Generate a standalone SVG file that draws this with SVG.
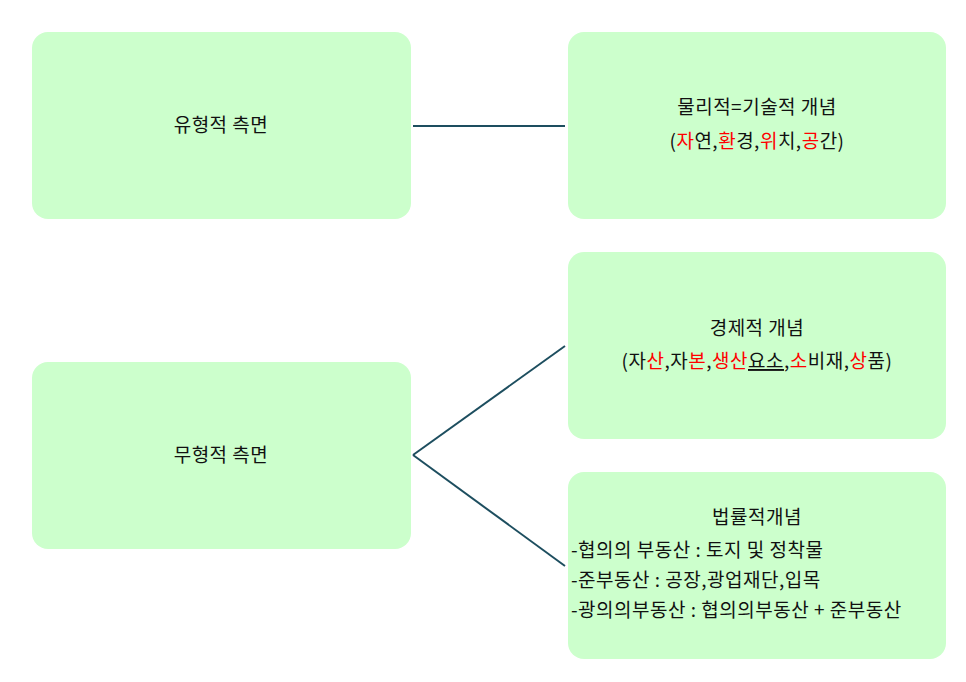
<svg xmlns="http://www.w3.org/2000/svg" width="966" height="682" viewBox="0 0 966 682">
<style>
.box{fill:#ccffcc;stroke:none}
text{font-family:"Noto Sans CJK KR","Noto Sans",sans-serif;font-size:19px;letter-spacing:0.5px;fill:#111}
.c{text-anchor:middle}
.r{fill:#ff0000}
.ln{stroke:#1d4e5f;stroke-width:2;fill:none}
</style>
<rect width="966" height="682" fill="#fff"/>
<g id="connectors">
<line class="ln" x1="413" y1="126" x2="565" y2="126"/>
<line class="ln" x1="413" y1="455" x2="565" y2="346"/>
<line class="ln" x1="413" y1="455" x2="565" y2="566"/>
</g>
<g id="n1"><rect class="box" x="32" y="32" width="379" height="187" rx="16"/><text class="c" x="221" y="132">유형적 측면</text></g>
<g id="n2"><rect class="box" x="32" y="362" width="379" height="187" rx="16"/><text class="c" x="221" y="462">무형적 측면</text></g>
<g id="n3"><rect class="box" x="568" y="32" width="378" height="187" rx="16"/>
<text class="c" x="757" y="114">물리적=기술적 개념</text>
<text class="c" x="757" y="148">(<tspan class="r">자</tspan>연,<tspan class="r">환</tspan>경,<tspan class="r">위</tspan>치,<tspan class="r">공</tspan>간)</text></g>
<g id="n4"><rect class="box" x="568" y="252" width="378" height="187" rx="16"/>
<text class="c" x="757" y="335">경제적 개념</text>
<text class="c" x="757" y="368">(자<tspan class="r">산</tspan>,자<tspan class="r">본</tspan>,<tspan class="r">생산</tspan><tspan text-decoration="underline">요소</tspan>,<tspan class="r">소</tspan>비재,<tspan class="r">상</tspan>품)</text></g>
<g id="n5"><rect class="box" x="568" y="472" width="378" height="187" rx="16"/>
<text class="c" x="757" y="524">법률적개념</text>
<text x="571" y="557">-협의의 부동산 : 토지 및 정착물</text>
<text x="571" y="587">-준부동산 : 공장,광업재단,입목</text>
<text x="571" y="617">-광의의부동산 : 협의의부동산 + 준부동산</text></g>
</svg>
